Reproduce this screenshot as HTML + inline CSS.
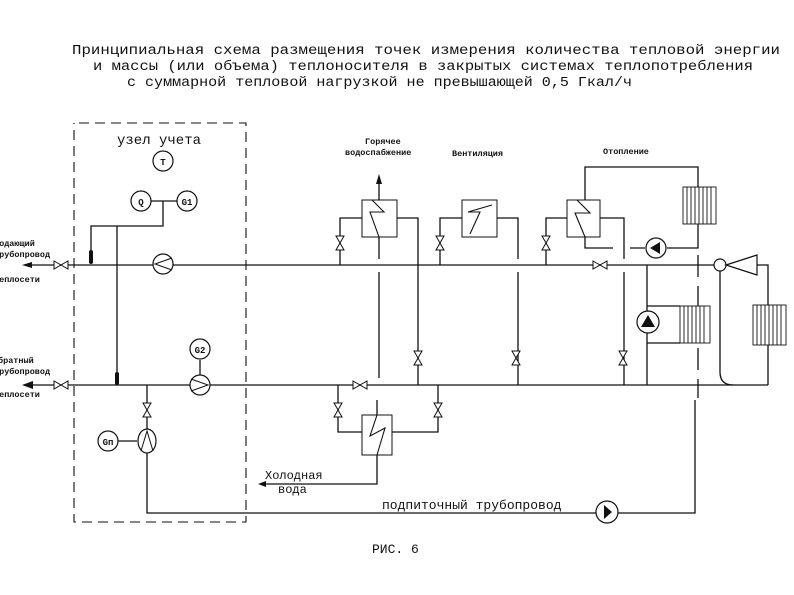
<!DOCTYPE html>
<html><head><meta charset="utf-8"><style>
html,body{margin:0;padding:0;background:#fff;}
svg{display:block;}
.t{font-family:"Liberation Mono","DejaVu Sans Mono",monospace;fill:#111;}
.s{font-family:"Liberation Mono","DejaVu Sans Mono",monospace;fill:#111;font-weight:bold;font-size:8.5px;}
</style></head><body>
<svg width="794" height="595" viewBox="0 0 794 595" xmlns="http://www.w3.org/2000/svg">
<defs>
<g id="vh"><path d="M-7,-4 L7,4 L7,-4 L-7,4 Z" fill="#fff" stroke="#111" stroke-width="1"/></g>
<g id="vv"><path d="M-4,-7 L4,7 L-4,7 L4,-7 Z" fill="#fff" stroke="#111" stroke-width="1"/></g>
</defs>
<g class="t" font-size="13.5">
<text x="72" y="54" textLength="708" lengthAdjust="spacingAndGlyphs">Принципиальная схема размещения точек измерения количества тепловой энергии</text>
<text x="93" y="70" textLength="660" lengthAdjust="spacingAndGlyphs">и массы (или объема) теплоносителя в закрытых системах теплопотребления</text>
<text x="127" y="86" textLength="505" lengthAdjust="spacingAndGlyphs">с суммарной тепловой нагрузкой не превышающей 0,5 Гкал/ч</text>
<text x="372" y="553" font-size="13">РИС. 6</text>
<text x="117" y="144" font-size="14">узел учета</text>
<text x="265" y="479" font-size="12">Холодная</text>
<text x="278" y="493" font-size="12">вода</text>
<text x="382" y="509" font-size="13">подпиточный трубопровод</text>
</g>
<g class="s">
<text x="365" y="144">Горячее</text>
<text x="345" y="155">водоспабжение</text>
<text x="452" y="156">Вентиляция</text>
<text x="603" y="154">Отопление</text>
<text x="-6" y="246">Подающий</text>
<text x="-6" y="257">трубопровод</text>
<text x="-6" y="282">теплосети</text>
<text x="-2" y="363">братный</text>
<text x="-6" y="374">трубопровод</text>
<text x="-6" y="397">теплосети</text>
</g>
<g fill="none" stroke="#111" stroke-width="1.3">
<!-- dashed box -->
<path d="M79,123 H246 V522 H74 V123" stroke-dasharray="10,6" stroke-width="1.1"/>
<!-- supply -->
<path d="M28,265 H714"/>
<path d="M28,385 H768"/>
<!-- left sensors -->
<path d="M91,252 V226 H163 V201"/>
<path d="M117,226 V374"/>
<path d="M131,201 H197"/>
<path d="M200,360 V375"/>
<!-- bottom feed -->
<path d="M147,385 V513 H596 M618,513 H695 V400"/>
<path d="M118,441 H137"/>
<!-- cold water -->
<path d="M262,484 H377 V455"/>
<path d="M377,415 V400"/>
<!-- bottom HX pipes -->
<path d="M338,385 V432 H362 M438,385 V432 H392"/>
<!-- hot water HX -->
<path d="M340,265 V218 H362 M397,218 H418 V385"/>
<path d="M379,200 V180 M379,237 V259 M379,272 V378"/>
<!-- vent HX -->
<path d="M440,265 V218 H462 M497,218 H518 V259 M518,272 V385"/>
<!-- heating HX -->
<path d="M546,265 V218 H567 M600,218 H624 V259 M624,272 V385"/>
<path d="M585,200 V167 H698 V187 M698,224 V248 H667 M645,248 H630 M585,237 V248 H613"/>
<path d="M698,255 V398" stroke-dasharray="22,9"/>
<!-- second heating branch -->
<path d="M647,265 V385 M647,306 H680 M647,343 H680"/>
<!-- elevator -->
<path d="M720,271 V372 Q720,385 733,385"/>
<path d="M757,265 H768 V385"/>
</g>
<!-- arrows -->
<path d="M379,174 L376,184 L382,184 Z" fill="#111"/>
<path d="M22,265 L32,262 L32,268 Z" fill="#111"/>
<path d="M22,385 L33,381 L33,389 Z" fill="#111"/>
<path d="M258,484 L266,481 L266,487 Z" fill="#111"/>
<!-- HX rects -->
<g fill="#fff" stroke="#111" stroke-width="1">
<rect x="362" y="200" width="35" height="37"/>
<rect x="462" y="200" width="35" height="37"/>
<rect x="567" y="200" width="33" height="37"/>
<rect x="362" y="415" width="30" height="40"/>
</g>
<g fill="none" stroke="#111" stroke-width="1.1">
<path d="M372,200 L384,212 L370,212 L379,237"/>
<path d="M470,234 L480,212 L468,212 L492,205"/>
<path d="M577,200 L590,213 L575,213 L585,237"/>
<path d="M377,415 L370,436 L385,428 L377,455"/>
</g>
<!-- radiators -->
<g fill="#fff" stroke="#111" stroke-width="0.9">
<rect x="683" y="187" width="33" height="37"/>
<path d="M687,187V224M691,187V224M695,187V224M699,187V224M703,187V224M707,187V224M711,187V224"/>
<rect x="680" y="306" width="30" height="37"/>
<path d="M684,306V343M688,306V343M692,306V343M696,306V343M700,306V343M704,306V343"/>
<rect x="753" y="305" width="33" height="40"/>
<path d="M757,305V345M761,305V345M765,305V345M769,305V345M773,305V345M777,305V345M781,305V345"/>
</g>
<!-- valves -->
<use href="#vh" x="61" y="265"/>
<use href="#vh" x="61" y="385"/>
<use href="#vh" x="600" y="265"/>
<use href="#vh" x="360" y="385"/>
<use href="#vv" x="340" y="243"/>
<use href="#vv" x="440" y="243"/>
<use href="#vv" x="546" y="243"/>
<use href="#vv" x="418" y="358"/>
<use href="#vv" x="516" y="358"/>
<use href="#vv" x="623" y="358"/>
<use href="#vv" x="338" y="410"/>
<use href="#vv" x="438" y="410"/>
<use href="#vv" x="147" y="410"/>
<!-- thermometers -->
<rect x="89" y="250" width="4" height="14" rx="2" fill="#111"/>
<rect x="115" y="372" width="4" height="13" rx="2" fill="#111"/>
<!-- instrument circles -->
<g fill="#fff" stroke="#111" stroke-width="1.2">
<circle cx="163" cy="161" r="10"/>
<circle cx="141" cy="201" r="10"/>
<circle cx="187" cy="201" r="10"/>
<circle cx="200" cy="349" r="10"/>
<circle cx="108" cy="441" r="10"/>
<circle cx="163" cy="264" r="10"/>
<circle cx="200" cy="385" r="10"/>
<ellipse cx="147" cy="441" rx="9" ry="12"/>
<circle cx="656" cy="248" r="10"/>
<circle cx="648" cy="322" r="11"/>
<circle cx="607" cy="512" r="11"/>
<circle cx="720" cy="265" r="6"/>
<path d="M726,265 L757,255 L757,275 Z"/>
</g>
<g fill="none" stroke="#111" stroke-width="1">
<path d="M172,258 L155,264 L172,270"/>
<path d="M191,379 L208,385 L191,391"/>
<path d="M141,451 L147,431 L153,451"/>
</g>
<path d="M650,248 L660,242 L660,254 Z" fill="#111"/>
<path d="M648,315 L641,327 L655,327 Z" fill="#111"/>
<path d="M604,505 L612,512 L604,519 Z" fill="#111"/>
<g class="t" font-size="9" font-weight="bold" text-anchor="middle">
<text x="163" y="165">T</text>
<text x="141" y="205">Q</text>
<text x="187" y="205">G1</text>
<text x="200" y="353">G2</text>
<text x="108" y="445">Gп</text>
</g>
</svg>
</body></html>
